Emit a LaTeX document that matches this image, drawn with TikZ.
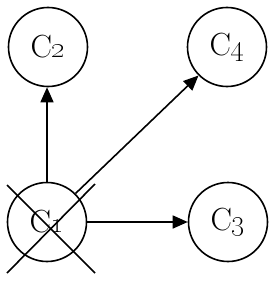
\documentclass[tikz,border=0pt]{standalone}
\usetikzlibrary{arrows.meta}
\begin{document}
\begin{tikzpicture}[x=1pt,y=-1pt,
  cnode/.style={circle,draw,line width=1.6pt,minimum size=79pt,inner sep=0pt,font=\fontsize{32}{36}\selectfont},
  conn/.style={line width=1.6pt,-{Triangle[length=15pt,width=13pt]}},
  crossline/.style={line width=1.6pt}]
\useasboundingbox (0,0) rectangle (271,281);
\node[cnode] (c2) at (48,47) {C\oldstylenums{2}};
\node[cnode] (c4) at (227,47) {C\oldstylenums{4}};
\node[cnode] (c1) at (47,222) {C\oldstylenums{1}};
\node[cnode] (c3) at (228,222) {C\oldstylenums{3}};
\draw[conn] (c1.north) -- (c1.north |- c2.south);
\draw[conn] (c1) -- (c3);
\draw[conn] (c1.45) -- (c4.225);
\coordinate (xa1) at (7,185);
\coordinate (xa2) at (95,273);
\coordinate (xb1) at (7,273);
\coordinate (xb2) at (95,184);
\draw[crossline] (xa1) -- (xa2);
\draw[crossline] (xb1) -- (xb2);
\end{tikzpicture}
\end{document}
